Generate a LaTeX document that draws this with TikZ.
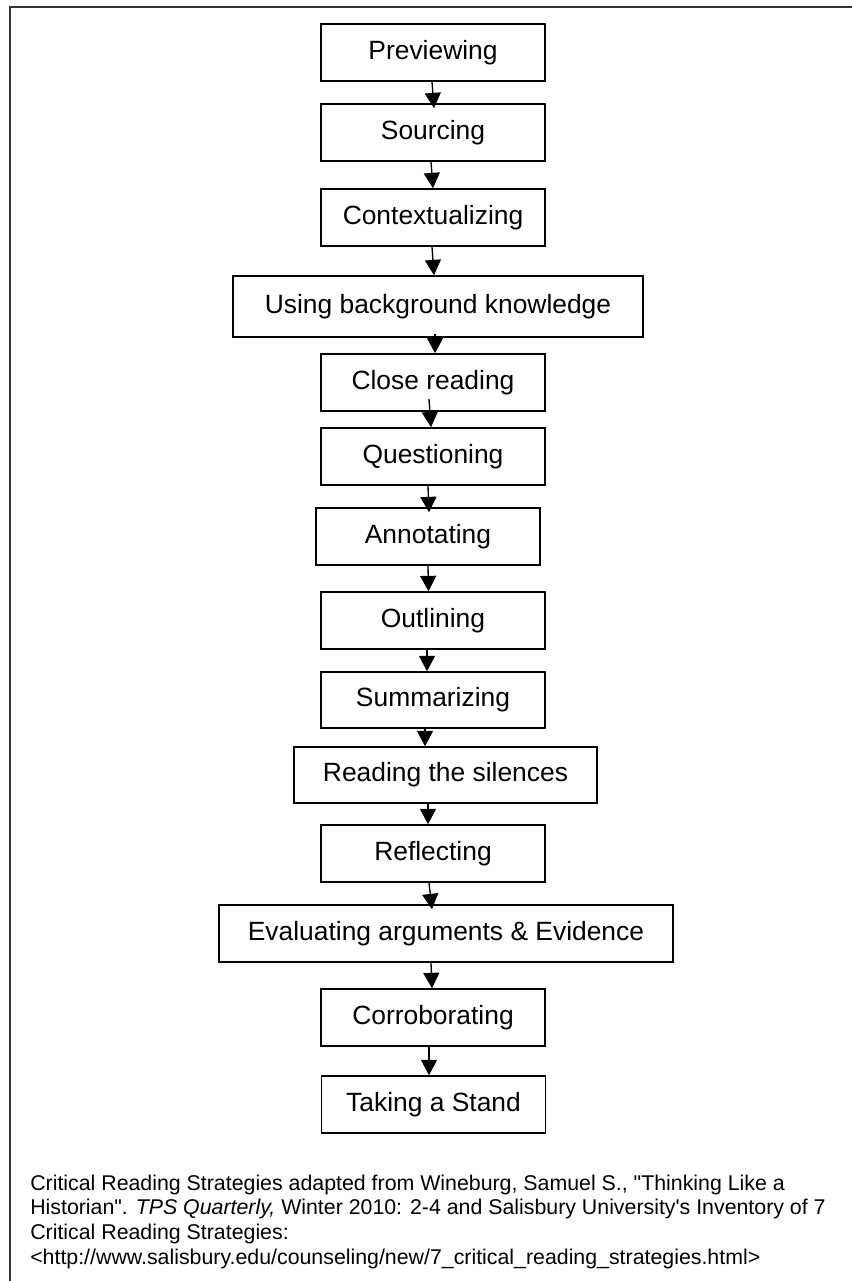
\documentclass[tikz,border=0pt]{standalone}
\usepackage{fontspec}
\setmainfont{Liberation Sans}
\usetikzlibrary{arrows.meta}

\tikzset{
  stage/.style={draw, line width=1.2pt, inner sep=0pt, minimum width=168pt,
    minimum height=42.75pt, font=\fontsize{19.8}{23}\selectfont},
  flow/.style={-{Triangle[length=11.5pt,width=12pt]}, line width=1pt},
}

\begin{document}
\begin{tikzpicture}[x=0.75pt,y=-0.75pt]
\useasboundingbox (0,0) rectangle (852,1281);
\draw[line width=1.8pt, black!80] (10,1281) -- (10,7) -- (852,7);
\node[stage] (prev) at (433,52.5) {Previewing};
\node[stage] (sourc) at (433,132.5) {Sourcing};
\node[stage] (context) at (433,217.5) {Contextualizing};
\node[stage, minimum width=307.5pt, minimum height=45.75pt] (usingbg) at (438,306.5) {Using background knowledge};
\node[stage] (close) at (433,382.5) {Close reading};
\node[stage] (quest) at (433,456.5) {Questioning};
\node[stage] (annot) at (428,536.5) {Annotating};
\node[stage] (outl) at (433,620.5) {Outlining};
\node[stage, minimum height=42pt] (summ) at (433,700) {Summarizing};
\node[stage, minimum width=227.25pt, minimum height=42pt] (silences) at (445.5,775) {Reading the silences\hspace{12pt}};
\node[stage] (reflect) at (433,853.5) {Reflecting};
\node[stage, minimum width=340.5pt] (evalarg) at (446,933.5) {Evaluating arguments \& Evidence\hspace{10pt}};
\node[stage] (corrob) at (433,1017.5) {Corroborating};
\node[stage] (stand) at (433.5,1104.5) {Taking a Stand};
\draw[flow] ([shift={(-1,0)}]prev.south) -- ([shift={(1,5)}]sourc.north);
\draw[flow] ([shift={(-2,0)}]sourc.south) -- (context.north);
\draw[flow] ([shift={(-1,0)}]context.south) -- ([shift={(-4,0)}]usingbg.north);
\draw[flow] ([shift={(-3,-4)}]usingbg.south) -- ([shift={(2,0)}]close.north);
\draw[flow] ([shift={(-4,-13)}]close.south) -- ([shift={(-2,0)}]quest.north);
\draw[flow] ([shift={(-5,0)}]quest.south) -- ([shift={(1,5)}]annot.north);
\draw[flow] (annot.south) -- ([shift={(-4.5,0)}]outl.north);
\draw[flow] ([shift={(-6,0)}]outl.south) -- ([shift={(-6,0)}]summ.north);
\draw[flow] ([shift={(-8,0)}]summ.south) -- ([shift={(-20.5,0)}]silences.north);
\draw[flow] ([shift={(-17.5,0)}]silences.south) -- ([shift={(-5,0)}]reflect.north);
\draw[flow] ([shift={(-4,0)}]reflect.south) -- ([shift={(-14,5)}]evalarg.north);
\draw[flow] ([shift={(-15,0)}]evalarg.south) -- ([shift={(-1,0)}]corrob.north);
\draw[flow] ([shift={(-4,0)}]corrob.south) -- ([shift={(-4.5,0)}]stand.north);
% source note
\node[anchor=north west, align=left, inner sep=0pt, font=\fontsize{16}{18.5}\selectfont] (cite) at (30,1174.5)
  {Critical Reading Strategies adapted from Wineburg, Samuel S., \textquotedbl Thinking Like a\\
   Historian\textquotedbl. \textit{TPS Quarterly,} Winter 2010: 2-4 and Salisbury University\textquotesingle s Inventory of 7\\
   Critical Reading Strategies:\\
   <http://www.salisbury.edu/counseling/new/7\_critical\_reading\_strategies.html>};
\end{tikzpicture}
\end{document}
